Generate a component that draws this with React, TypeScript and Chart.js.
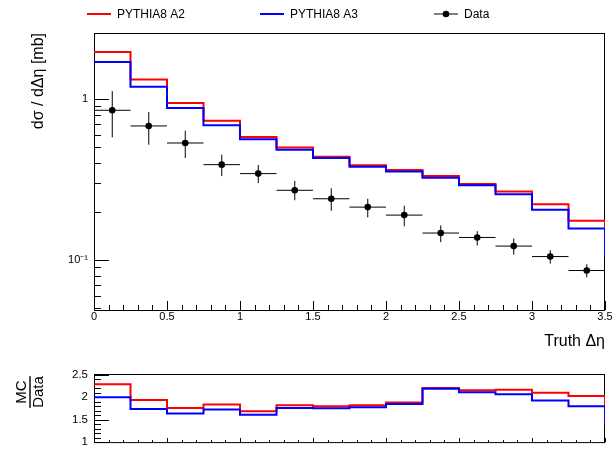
import React, { useEffect, useRef } from 'react';
import { Chart, registerables } from 'chart.js';

Chart.register(...registerables);

// ---------------- data ----------------
const binEdges = [0, 0.25, 0.5, 0.75, 1, 1.25, 1.5, 1.75, 2, 2.25, 2.5, 2.75, 3, 3.25, 3.5];
const pythiaA2 = [1.96, 1.32, 0.944, 0.733, 0.581, 0.499, 0.438, 0.387, 0.362, 0.332, 0.296, 0.266, 0.222, 0.175];
const pythiaA3 = [1.7, 1.19, 0.88, 0.687, 0.562, 0.484, 0.43, 0.38, 0.354, 0.324, 0.291, 0.256, 0.205, 0.157];
const dataValues = [0.851, 0.68, 0.533, 0.391, 0.344, 0.271, 0.24, 0.213, 0.19, 0.147, 0.138, 0.122, 0.105, 0.086];
const dataErrHigh = [1.12, 0.83, 0.635, 0.451, 0.389, 0.31, 0.279, 0.24, 0.217, 0.164, 0.151, 0.136, 0.115, 0.094];
const dataErrLow = [0.578, 0.52, 0.43, 0.332, 0.3, 0.235, 0.202, 0.184, 0.162, 0.129, 0.123, 0.108, 0.095, 0.078];
const ratioA2 = [2.29, 1.94, 1.76, 1.84, 1.69, 1.825, 1.8, 1.825, 1.886, 2.21, 2.16, 2.17, 2.1, 2.03];
const ratioA3 = [2.0, 1.74, 1.64, 1.73, 1.61, 1.76, 1.757, 1.78, 1.85, 2.19, 2.11, 2.07, 1.93, 1.8];
const mainEndValue = 0.106;
const ratioEndValue = 1.39;

const xTickValues = [0, 0.5, 1, 1.5, 2, 2.5, 3, 3.5];
const xTickLabels = ['0', '0.5', '1', '1.5', '2', '2.5', '3', '3.5'];
const mainYTickValues = [0.1, 1];
const mainYTickLabels = ['10\u207B\u00B9', '1'];
const ratioYTickValues = [1, 1.5, 2, 2.5];
const ratioYTickLabels = ['1', '1.5', '2', '2.5'];
const legendLabels = ['PYTHIA8 A2', 'PYTHIA8 A3', 'Data'];
const xTitle = 'Truth \u0394\u03B7';
const yTitle = 'd\u03C3 / d\u0394\u03B7 [mb]';
const ratioTitleTop = 'MC';
const ratioTitleBottom = 'Data';

// ---------------- helpers ----------------
const FONT = '"Liberation Sans", Arial, Helvetica, sans-serif';
const RED = '#ff0000';
const BLUE = '#0000ff';

function histSteps(vals: number[], endVal: number) {
  const pts: { x: number; y: number | null }[] = vals.map((v, i) => ({ x: binEdges[i], y: v }));
  pts.push({ x: binEdges[vals.length], y: vals[vals.length - 1] });
  pts.push({ x: binEdges[vals.length], y: endVal });
  return pts;
}

const centers = dataValues.map((_, i) => (binEdges[i] + binEdges[i + 1]) / 2);
const dataPoints = dataValues.map((v, i) => ({ x: centers[i], y: v }));
const errVertical = dataValues.flatMap((_, i) => [
  { x: centers[i], y: dataErrLow[i] as number | null },
  { x: centers[i], y: dataErrHigh[i] as number | null },
  { x: centers[i], y: null },
]);
const errHorizontal = dataValues.flatMap((v, i) => [
  { x: binEdges[i], y: v as number | null },
  { x: binEdges[i + 1], y: v as number | null },
  { x: binEdges[i + 1], y: null },
]);

function range(a: number, b: number, step: number) {
  const out: number[] = [];
  for (let v = a; v <= b + 1e-9; v += step) out.push(Math.round(v * 1000) / 1000);
  return out;
}

const logMinor = [0.05, 0.06, 0.07, 0.08, 0.09, 0.2, 0.3, 0.4, 0.5, 0.6, 0.7, 0.8, 0.9, 2];

// inward ROOT-style ticks + frame (drawn under the histograms, as ROOT does)
const axisDecor = {
  id: 'axisDecor',
  beforeDatasetsDraw(chart: any, _args: any, opts: any) {
    const { ctx, chartArea: a, scales } = chart;
    const xs = scales.x;
    const ys = scales.y;
    ctx.save();
    ctx.strokeStyle = '#000';
    ctx.lineWidth = 1;
    ctx.beginPath();
    (opts.xMajor || []).forEach((v: number) => {
      const px = Math.round(xs.getPixelForValue(v)) + 0.5;
      ctx.moveTo(px, a.bottom);
      ctx.lineTo(px, a.bottom - opts.xMajorLen);
    });
    (opts.xMinor || []).forEach((v: number) => {
      const px = Math.round(xs.getPixelForValue(v)) + 0.5;
      ctx.moveTo(px, a.bottom);
      ctx.lineTo(px, a.bottom - opts.xMinorLen);
    });
    (opts.yMajor || []).forEach((v: number) => {
      const py = Math.round(ys.getPixelForValue(v)) + 0.5;
      ctx.moveTo(a.left, py);
      ctx.lineTo(a.left + opts.yMajorLen, py);
    });
    (opts.yMinor || []).forEach((v: number) => {
      const py = Math.round(ys.getPixelForValue(v)) + 0.5;
      ctx.moveTo(a.left, py);
      ctx.lineTo(a.left + opts.yMinorLen, py);
    });
    ctx.stroke();
    ctx.strokeRect(a.left + 0.5, a.top + 0.5, a.right - a.left - 1, a.bottom - a.top);
    ctx.restore();
  },
};

const rootLegend = {
  id: 'rootLegend',
  afterDraw(chart: any, _args: any, opts: any) {
    if (!opts.items) return;
    const ctx = chart.ctx;
    ctx.save();
    ctx.font = `12px ${FONT}`;
    ctx.textBaseline = 'middle';
    ctx.textAlign = 'left';
    const y = opts.y;
    opts.items.forEach((it: any) => {
      const ds = chart.data.datasets[it.datasetIndex];
      if (it.kind === 'line') {
        ctx.strokeStyle = ds.borderColor;
        ctx.lineWidth = 2;
        ctx.beginPath();
        ctx.moveTo(it.x, y);
        ctx.lineTo(it.x + 24, y);
        ctx.stroke();
      } else {
        ctx.strokeStyle = '#000';
        ctx.lineWidth = 1;
        ctx.beginPath();
        ctx.moveTo(it.x, y);
        ctx.lineTo(it.x + 24, y);
        ctx.stroke();
        ctx.fillStyle = ds.pointBackgroundColor;
        ctx.beginPath();
        ctx.arc(it.x + 12, y, 3.3, 0, Math.PI * 2);
        ctx.fill();
      }
      ctx.fillStyle = '#000';
      ctx.fillText(it.label, it.x + 30, y + 0.5);
    });
    ctx.restore();
  },
};

const ratioTitle = {
  id: 'ratioTitle',
  afterDraw(chart: any, _args: any, opts: any) {
    if (!opts.top) return;
    const ctx = chart.ctx;
    ctx.save();
    ctx.font = `15px ${FONT}`;
    ctx.fillStyle = '#000';
    ctx.textAlign = 'center';
    ctx.textBaseline = 'middle';
    ctx.translate(opts.x, opts.y);
    ctx.rotate(-Math.PI / 2);
    const w = Math.max(ctx.measureText(opts.top).width, ctx.measureText(opts.bottom).width);
    ctx.fillText(opts.top, 0, -8);
    ctx.fillText(opts.bottom, 0, 8.5);
    ctx.fillRect(-w / 2, -0.7, w, 1.4);
    ctx.restore();
  },
};

function MainChart() {
  const ref = useRef<HTMLCanvasElement | null>(null);
  useEffect(() => {
    if (!ref.current) return;
    const chart = new Chart(ref.current, {
      type: 'line',
      data: {
        datasets: [
          {
            label: legendLabels[2],
            data: dataPoints,
            showLine: false,
            pointRadius: 3.3,
            pointBackgroundColor: '#000',
            pointBorderWidth: 0,
            borderColor: '#000',
          },
          {
            label: 'errY',
            data: errVertical,
            borderColor: '#000',
            borderWidth: 1,
            pointRadius: 0,
            spanGaps: false,
          },
          {
            label: 'errX',
            data: errHorizontal,
            borderColor: '#000',
            borderWidth: 1,
            pointRadius: 0,
            spanGaps: false,
          },
          {
            label: legendLabels[1],
            data: histSteps(pythiaA3, mainEndValue),
            stepped: true,
            borderColor: BLUE,
            borderWidth: 2,
            pointRadius: 0,
            fill: false,
          },
          {
            label: legendLabels[0],
            data: histSteps(pythiaA2, mainEndValue),
            stepped: true,
            borderColor: RED,
            borderWidth: 2,
            pointRadius: 0,
            fill: false,
          },
        ] as any,
      },
      options: {
        responsive: false,
        maintainAspectRatio: false,
        animation: false,
        events: [],
        layout: { padding: { left: 0, right: 9, top: 33, bottom: 0 } },
        plugins: {
          legend: { display: false },
          tooltip: { enabled: false },
          axisDecor: {
            xMajor: xTickValues,
            xMinor: range(0, 3.5, 0.1),
            xMajorLen: 9,
            xMinorLen: 5,
            yMajor: mainYTickValues,
            yMinor: logMinor,
            yMajorLen: 15,
            yMinorLen: 7,
          },
          rootLegend: {
            y: 14,
            items: [
              { label: legendLabels[0], datasetIndex: 4, kind: 'line', x: 87 },
              { label: legendLabels[1], datasetIndex: 3, kind: 'line', x: 260 },
              { label: legendLabels[2], datasetIndex: 0, kind: 'data', x: 434 },
            ],
          },
        } as any,
        scales: {
          x: {
            type: 'linear',
            position: 'bottom',
            min: 0,
            max: 3.5,
            grid: { display: false, drawTicks: false },
            border: { display: false },
            ticks: {
              autoSkip: false,
              maxRotation: 0,
              padding: 0,
              color: '#000',
              font: { family: FONT, size: 11 },
              callback: (v: any) => {
                const i = xTickValues.indexOf(Number(v));
                return i >= 0 ? xTickLabels[i] : '';
              },
            },
            afterBuildTicks: (s: any) => {
              s.ticks = xTickValues.map((v) => ({ value: v }));
            },
            afterFit: (s: any) => {
              s.height = 45;
            },
            title: {
              display: true,
              text: xTitle,
              align: 'end',
              color: '#000',
              font: { family: FONT, size: 16 },
              padding: { top: 0, bottom: 4 },
            },
          },
          y: {
            type: 'logarithmic',
            position: 'left',
            min: 0.0489,
            max: 2.57,
            grid: { display: false, drawTicks: false },
            border: { display: false },
            ticks: {
              padding: 6,
              color: '#000',
              font: { family: FONT, size: 11 },
              callback: (v: any) => {
                const i = mainYTickValues.findIndex((t) => Math.abs(t - Number(v)) < 1e-9);
                return i >= 0 ? mainYTickLabels[i] : '';
              },
            },
            afterBuildTicks: (s: any) => {
              s.ticks = mainYTickValues.map((v) => ({ value: v }));
            },
            afterFit: (s: any) => {
              s.width = 94;
            },
            title: {
              display: true,
              text: yTitle,
              align: 'end',
              color: '#000',
              font: { family: FONT, size: 16 },
              padding: { top: 29, bottom: 0 },
            },
          },
        },
      } as any,
      plugins: [axisDecor, rootLegend],
    });
    return () => chart.destroy();
  }, []);
  return (
    <canvas
      ref={ref}
      width={614}
      height={355}
      style={{ position: 'absolute', left: 0, top: 0, width: 614, height: 355, display: 'block' }}
    />
  );
}

function RatioChart() {
  const ref = useRef<HTMLCanvasElement | null>(null);
  useEffect(() => {
    if (!ref.current) return;
    const chart = new Chart(ref.current, {
      type: 'line',
      data: {
        datasets: [
          {
            label: legendLabels[1],
            data: histSteps(ratioA3, ratioEndValue),
            stepped: true,
            borderColor: BLUE,
            borderWidth: 2,
            pointRadius: 0,
            fill: false,
          },
          {
            label: legendLabels[0],
            data: histSteps(ratioA2, ratioEndValue),
            stepped: true,
            borderColor: RED,
            borderWidth: 2,
            pointRadius: 0,
            fill: false,
          },
        ] as any,
      },
      options: {
        responsive: false,
        maintainAspectRatio: false,
        animation: false,
        events: [],
        layout: { padding: { left: 0, right: 9, top: 19, bottom: 0 } },
        plugins: {
          legend: { display: false },
          tooltip: { enabled: false },
          axisDecor: {
            xMajor: xTickValues,
            xMinor: range(0, 3.5, 0.1),
            xMajorLen: 4,
            xMinorLen: 2,
            yMajor: ratioYTickValues,
            yMinor: range(1, 2.5, 0.1),
            yMajorLen: 15,
            yMinorLen: 7,
          },
          ratioTitle: { top: ratioTitleTop, bottom: ratioTitleBottom, x: 30, y: 37 },
        } as any,
        scales: {
          x: {
            type: 'linear',
            position: 'bottom',
            min: 0,
            max: 3.5,
            grid: { display: false, drawTicks: false },
            border: { display: false },
            ticks: { display: false },
            afterBuildTicks: (s: any) => {
              s.ticks = xTickValues.map((v) => ({ value: v }));
            },
            afterFit: (s: any) => {
              s.height = 8;
            },
          },
          y: {
            type: 'linear',
            position: 'left',
            min: 1,
            max: 2.52,
            grid: { display: false, drawTicks: false },
            border: { display: false },
            ticks: {
              padding: 6,
              color: '#000',
              font: { family: FONT, size: 11.5 },
              callback: (v: any) => {
                const i = ratioYTickValues.findIndex((t) => Math.abs(t - Number(v)) < 1e-9);
                return i >= 0 ? ratioYTickLabels[i] : '';
              },
            },
            afterBuildTicks: (s: any) => {
              s.ticks = ratioYTickValues.map((v) => ({ value: v }));
            },
            afterFit: (s: any) => {
              s.width = 94;
            },
          },
        },
      } as any,
      plugins: [axisDecor, ratioTitle],
    });
    return () => chart.destroy();
  }, []);
  return (
    <canvas
      ref={ref}
      width={614}
      height={100}
      style={{ position: 'absolute', left: 0, top: 355, width: 614, height: 100, display: 'block' }}
    />
  );
}

export default function App() {
  return (
    <div
      style={{
        position: 'fixed',
        left: 0,
        top: 0,
        width: 614,
        height: 455,
        background: '#ffffff',
        overflow: 'hidden',
      }}
    >
      <MainChart />
      <RatioChart />
    </div>
  );
}
